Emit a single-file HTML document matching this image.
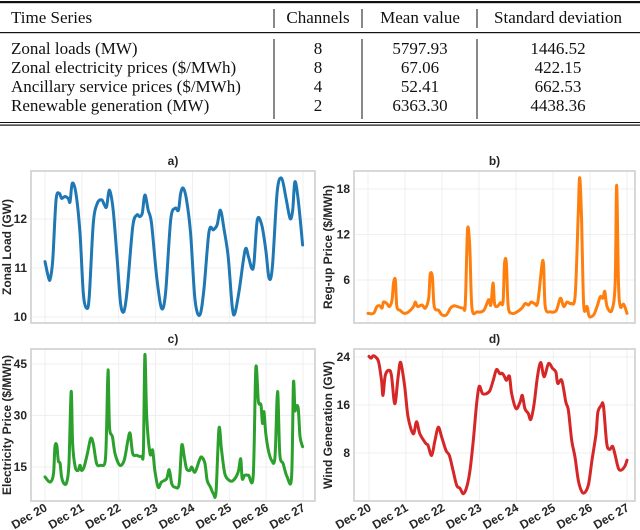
<!DOCTYPE html>
<html><head><meta charset="utf-8"><style>
html,body{margin:0;padding:0;background:#fff;}
svg{display:block;}
.tbl{font-family:"Liberation Serif",serif;font-size:17px;fill:#111;}
.tk{font-family:"Liberation Sans",sans-serif;font-weight:bold;font-size:12px;fill:#262626;}
.ttl{font-family:"Liberation Sans",sans-serif;font-weight:bold;font-size:12px;fill:#262626;}
</style></head><body>
<svg id="root" width="640" height="530" viewBox="0 0 640 530" xmlns="http://www.w3.org/2000/svg">
<g>
  <rect x="0" y="1" width="640" height="2.2" fill="#111"/>
  <rect x="0" y="32" width="640" height="1.2" fill="#111"/>
  <rect x="0" y="122" width="640" height="1" fill="#111"/>
  <rect x="0" y="124.5" width="640" height="1.2" fill="#111"/>
  <g stroke="#111" stroke-width="1">
    <line x1="274" y1="9" x2="274" y2="28"/><line x1="362" y1="9" x2="362" y2="28"/><line x1="477" y1="9" x2="477" y2="28"/>
    <line x1="274" y1="39" x2="274" y2="119"/><line x1="362" y1="39" x2="362" y2="119"/><line x1="477" y1="39" x2="477" y2="119"/>
  </g>
  <text class="tbl" x="11" y="23">Time Series</text>
  <text class="tbl" x="318" y="23" text-anchor="middle">Channels</text>
  <text class="tbl" x="420" y="23" text-anchor="middle">Mean value</text>
  <text class="tbl" x="558" y="23" text-anchor="middle">Standard deviation</text>
  <g>
    <text class="tbl" x="11" y="54">Zonal loads (MW)</text><text class="tbl" x="318" y="54" text-anchor="middle">8</text><text class="tbl" x="420" y="54" text-anchor="middle">5797.93</text><text class="tbl" x="558" y="54" text-anchor="middle">1446.52</text>
  </g>
  <g>
    <text class="tbl" x="11" y="73">Zonal electricity prices ($/MWh)</text><text class="tbl" x="318" y="73" text-anchor="middle">8</text><text class="tbl" x="420" y="73" text-anchor="middle">67.06</text><text class="tbl" x="558" y="73" text-anchor="middle">422.15</text>
  </g>
  <g>
    <text class="tbl" x="11" y="92">Ancillary service prices ($/MWh)</text><text class="tbl" x="318" y="92" text-anchor="middle">4</text><text class="tbl" x="420" y="92" text-anchor="middle">52.41</text><text class="tbl" x="558" y="92" text-anchor="middle">662.53</text>
  </g>
  <g>
    <text class="tbl" x="11" y="111">Renewable generation (MW)</text><text class="tbl" x="318" y="111" text-anchor="middle">2</text><text class="tbl" x="420" y="111" text-anchor="middle">6363.30</text><text class="tbl" x="558" y="111" text-anchor="middle">4438.36</text>
  </g>
</g>
</svg>
<script>
const dayLabels = ["Dec 20","Dec 21","Dec 22","Dec 23","Dec 24","Dec 25","Dec 26","Dec 27"];

const loadDays = [0,.09,.14,.21,.30,.39,.45,.54,.63,.68,.74,.84,.95,1.04,1.13,1.20,1.31,1.42,1.54,1.61,1.67,1.75,1.85,1.96,2.05,2.14,2.23,2.38,2.49,2.57,2.64,2.71,2.80,2.89,3.03,3.16,3.27,3.41,3.53,3.62,3.68,3.75,3.84,3.95,4.07,4.20,4.31,4.45,4.57,4.67,4.76,4.86,4.97,5.08,5.15,5.27,5.43,5.52,5.61,5.67,5.76,5.88,5.99,6.08,6.17,6.30,6.42,6.54,6.65,6.72,6.78,6.87,6.99];
const loadValues = [11.13,10.82,10.77,11.16,12.39,12.52,12.42,12.46,12.42,12.35,12.73,12.52,11.71,10.48,10.18,10.41,11.91,12.32,12.39,12.29,12.25,12.59,12.18,11.16,10.28,10.11,10.55,11.84,12.08,12.05,12.12,12.49,12.18,11.91,10.82,10.18,10.48,11.98,12.22,12.18,12.52,12.63,12.39,11.71,10.35,10.04,10.55,11.74,11.78,11.88,12.18,11.78,11.23,10.21,10.07,10.55,11.37,11.23,10.99,11.10,11.98,11.88,11.37,10.79,11.03,12.56,12.83,12.42,12.01,12.18,12.76,12.39,11.47];
const loadTicks = [10,11,12];

const regDays = [0,.15,.24,.32,.38,.42,.51,.58,.65,.69,.74,.78,.87,.98,1.10,1.23,1.28,1.34,1.46,1.55,1.64,1.68,1.74,1.79,1.91,2.00,2.12,2.23,2.32,2.41,2.57,2.63,2.69,2.75,2.81,2.95,3.13,3.26,3.32,3.38,3.42,3.49,3.58,3.65,3.69,3.74,3.79,3.89,4.03,4.16,4.25,4.34,4.41,4.50,4.59,4.73,4.79,4.93,5.09,5.20,5.29,5.38,5.49,5.60,5.68,5.72,5.77,5.83,5.92,5.98,6.10,6.19,6.28,6.35,6.40,6.46,6.59,6.68,6.72,6.77,6.82,6.91,7.00];
const regValues = [1.6,1.6,2.5,2.6,2.3,3.1,2.9,2.5,3.4,5.6,6.0,2.5,2.0,1.6,1.8,2.5,3.1,2.5,2.7,2.3,3.6,6.7,6.4,2.5,2.0,1.4,1.4,2.3,2.6,2.5,2.3,2.9,12.6,10.4,2.3,1.8,2.0,3.4,2.7,5.6,2.9,2.5,3.0,3.1,8.2,8.2,2.5,1.6,1.8,2.3,2.9,2.7,3.1,2.9,3.1,8.6,2.5,1.8,2.0,3.6,2.5,3.1,2.9,4.0,14.4,19.5,14.4,2.7,2.5,1.2,1.4,2.5,3.8,3.6,4.5,2.5,2.0,5.6,18.5,5.6,2.5,2.8,1.6];
const regTicks = [6,12,18];

const priceDays = [0,.14,.23,.27,.32,.36,.41,.45,.52,.59,.65,.71,.75,.82,.90,.95,.99,1.06,1.15,1.24,1.31,1.40,1.51,1.63,1.67,1.71,1.75,1.83,1.90,2.03,2.15,2.25,2.31,2.38,2.49,2.62,2.67,2.71,2.76,2.85,2.92,2.98,3.07,3.16,3.30,3.37,3.44,3.53,3.64,3.71,3.78,3.84,3.93,3.98,4.07,4.19,4.25,4.34,4.40,4.49,4.57,4.64,4.72,4.79,4.88,5.00,5.11,5.24,5.31,5.35,5.42,5.52,5.65,5.72,5.79,5.86,5.90,5.94,5.99,6.06,6.15,6.24,6.31,6.37,6.46,6.57,6.69,6.74,6.78,6.81,6.87,6.92,6.99];
const priceValues = [12.1,10.6,13.0,20.9,21.3,16.9,16.0,12.1,10.1,10.6,16.0,37.0,21.8,15.0,14.0,15.5,14.0,15.0,18.9,23.3,21.8,16.0,15.5,16.5,25.7,43.3,26.7,23.8,18.9,15.5,17.0,22.8,24.8,18.9,18.4,18.1,19.9,47.7,29.7,18.9,19.9,14.0,9.1,10.6,11.6,14.2,10.1,9.1,10.1,21.3,17.9,14.5,14.0,15.0,13.5,17.0,17.9,16.0,11.1,9.1,7.2,7.7,26.2,19.9,13.0,11.1,11.1,13.5,17.4,11.6,12.6,12.6,12.6,43.8,34.1,33.1,27.7,31.1,24.8,19.9,16.9,17.9,37.0,18.9,16.0,12.1,12.1,39.4,31.6,32.6,32.1,23.8,20.9];
const priceTicks = [15,30,45];

const windDays = [0,.06,.11,.18,.26,.34,.38,.44,.54,.61,.70,.79,.86,.97,1.06,1.20,1.29,1.38,1.54,1.60,1.70,1.79,1.88,1.97,2.09,2.18,2.28,2.38,2.47,2.56,2.65,2.74,2.83,2.92,2.99,3.08,3.19,3.28,3.37,3.46,3.55,3.61,3.67,3.73,3.81,3.87,3.99,4.10,4.16,4.23,4.32,4.39,4.48,4.57,4.66,4.75,4.87,4.98,5.07,5.12,5.23,5.34,5.41,5.50,5.59,5.68,5.78,5.87,5.96,6.05,6.16,6.21,6.30,6.36,6.45,6.53,6.61,6.68,6.77,6.86,6.95,7.00];
const windValues = [24.1,23.8,24.2,24.0,23.2,20.1,17.6,20.9,21.8,20.9,16.2,20.7,23.1,19.0,14.0,11.2,13.2,11.2,9.6,9.3,7.6,10.1,12.3,10.7,8.4,7.6,5.1,2.6,2.1,1.2,2.3,5.1,10.1,16.2,19.1,17.9,17.9,18.4,20.1,21.9,21.2,21.3,20.8,20.1,20.8,17.9,15.4,16.5,17.6,15.4,14.6,13.6,16.2,20.7,23.1,20.7,22.9,22.1,21.5,19.6,20.1,16.5,15.1,10.1,7.3,3.4,1.5,1.5,2.9,6.8,11.2,14.8,15.9,15.9,9.6,8.6,9.1,7.6,5.4,5.2,5.9,6.8];
const windTicks = [8,16,24];

const NS = "http://www.w3.org/2000/svg";
const root = document.getElementById('root');
function mk(tag, attrs, parent){
  const e = document.createElementNS(NS, tag);
  for (const k in attrs) e.setAttribute(k, attrs[k]);
  (parent||root).appendChild(e);
  return e;
}
function smoothPath(pts){
  let d = "M" + pts[0][0].toFixed(2) + "," + pts[0][1].toFixed(2);
  for (let i=0;i<pts.length-1;i++){
    const p0 = pts[Math.max(0,i-1)], p1 = pts[i], p2 = pts[i+1], p3 = pts[Math.min(pts.length-1,i+2)];
    const t = 0.16;
    const c1 = [p1[0]+(p2[0]-p0[0])*t, p1[1]+(p2[1]-p0[1])*t];
    const c2 = [p2[0]-(p3[0]-p1[0])*t, p2[1]-(p3[1]-p1[1])*t];
    d += "C"+c1[0].toFixed(2)+","+c1[1].toFixed(2)+" "+c2[0].toFixed(2)+","+c2[1].toFixed(2)+" "+p2[0].toFixed(2)+","+p2[1].toFixed(2);
  }
  return d;
}
function panel(cfg){
  const g = mk('g', {});
  
  
  const xs = d => cfg.x0 + (cfg.x1 - cfg.x0) * d / 7;
  const ys = v => cfg.yA + (v - cfg.vA) * (cfg.yB - cfg.yA) / (cfg.vB - cfg.vA);
  for (let i=0;i<dayLabels.length;i++){
    const gl = mk('line', {x1:xs(i), x2:xs(i), y1:cfg.top, y2:cfg.bot, stroke:'#efefef', 'stroke-width':1}, g);
    
    
  }
  cfg.ticks.forEach(t => {
    const gl = mk('line', {x1:cfg.left, x2:cfg.right, y1:ys(t), y2:ys(t), stroke:'#efefef', 'stroke-width':1}, g);
    
    
    const tl = mk('text', {x:cfg.left-4, y:ys(t)+4, 'text-anchor':'end', class:'tk'}, g);
    tl.textContent = t;
    
    
  });
  const fr = mk('rect', {x:cfg.left, y:cfg.top, width:cfg.right-cfg.left, height:cfg.bot-cfg.top, fill:'none', stroke:'#d4d4d4', 'stroke-width':1.8}, g);
  
  
  const pts = cfg.days.map((d,i) => [xs(d), ys(cfg.vals[i])]);
  const ln = mk('path', {d:smoothPath(pts), fill:'none', stroke:cfg.color, 'stroke-width':3, 'stroke-linejoin':'round', 'stroke-linecap':'round'}, g);
  
  
  const ti = mk('text', {x:(cfg.left+cfg.right)/2, y:cfg.top-6, 'text-anchor':'middle', class:'ttl'}, g);
  ti.textContent = cfg.title;
  
  
  const yl = mk('text', {x:0, y:0, 'text-anchor':'middle', class:'ttl', transform:'translate('+cfg.ylx+','+((cfg.top+cfg.bot)/2)+') rotate(-90)'}, g);
  yl.textContent = cfg.ylabel;
  
  
  if (cfg.xlabels){
    dayLabels.forEach((lab,i) => {
      const x = xs(i)+3, y = cfg.bot+9;
      const t = mk('text', {x:0, y:0, 'text-anchor':'end', class:'tk', transform:'translate('+x+','+y+') rotate(-30)'}, g);
      t.textContent = lab;
      
      
    });
  }
}
panel({name:'panel-a-zonal-load', title:'a)', ylabel:'Zonal Load (GW)', color:'#1f77b4', lineName:'zonal-load-line',
  left:31, right:315, top:171, bot:323, x0:45, x1:303, yA:317, vA:10, yB:219, vB:12, ylx:11, ticks:loadTicks, days:loadDays, vals:loadValues, xlabels:false});
panel({name:'panel-b-regup-price', title:'b)', ylabel:'Reg-up Price ($/MWh)', color:'#ff7f0e', lineName:'regup-price-line',
  left:354, right:635, top:171, bot:323, x0:368, x1:627, yA:280, vA:6, yB:189, vB:18, ylx:332, ticks:regTicks, days:regDays, vals:regValues, xlabels:false});
panel({name:'panel-c-electricity-price', title:'c)', ylabel:'Electricity Price ($/MWh)', color:'#2ca02c', lineName:'electricity-price-line',
  left:31, right:315, top:349, bot:501, x0:45, x1:303, yA:467, vA:15, yB:364, vB:45, ylx:11, ticks:priceTicks, days:priceDays, vals:priceValues, xlabels:true});
panel({name:'panel-d-wind-generation', title:'d)', ylabel:'Wind Generation (GW)', color:'#d62728', lineName:'wind-generation-line',
  left:354, right:635, top:349, bot:501, x0:369, x1:627, yA:453, vA:8, yB:357, vB:24, ylx:332, ticks:windTicks, days:windDays, vals:windValues, xlabels:true});
</script>
</body></html>
